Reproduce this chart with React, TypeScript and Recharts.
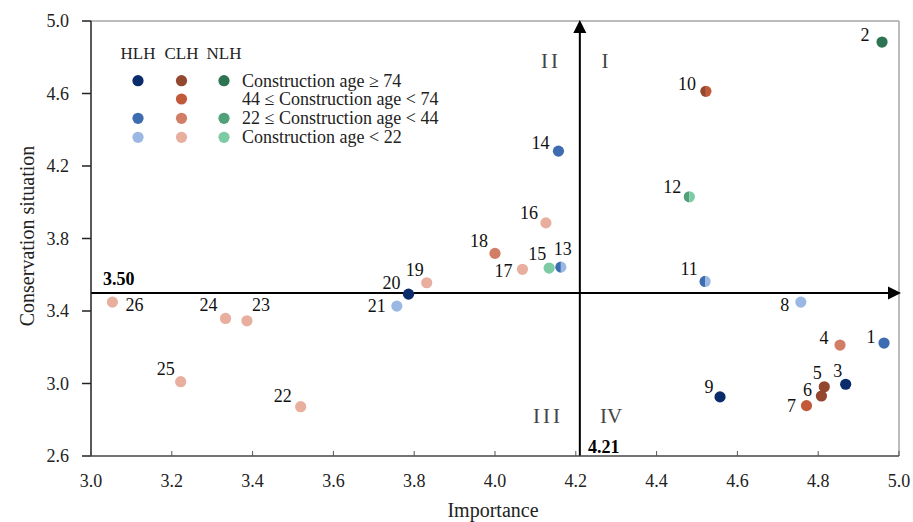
import React from 'react';
import { ScatterChart, Scatter, XAxis, YAxis, ReferenceLine, Customized } from 'recharts';

// ---- data ----
const pointIds = [1, 2, 3, 4, 5, 6, 7, 8, 9, 10, 11, 12, 13, 14, 15, 16, 17, 18, 19, 20, 21, 22, 23, 24, 25, 26];
const importance = [4.963, 4.958, 4.868, 4.854, 4.815, 4.808, 4.771, 4.757, 4.557, 4.522, 4.52, 4.481, 4.163, 4.157, 4.134, 4.126, 4.068, 4.0, 3.831, 3.786, 3.757, 3.519, 3.386, 3.333, 3.222, 3.053];
const conservation = [3.223, 4.884, 2.996, 3.212, 2.982, 2.931, 2.878, 3.449, 2.926, 4.612, 3.563, 4.03, 3.642, 4.282, 3.637, 3.886, 3.63, 3.718, 3.556, 3.493, 3.427, 2.872, 3.346, 3.359, 3.01, 3.449];
// type-age class; "a|b" = point shared by two classes
const pointClass = ['HLH-C', 'NLH-A', 'HLH-A', 'CLH-C', 'CLH-A', 'CLH-A', 'CLH-B', 'HLH-D', 'HLH-A', 'CLH-A|CLH-B', 'HLH-C|HLH-D', 'NLH-C|NLH-D', 'HLH-C|HLH-D', 'HLH-C', 'NLH-D', 'CLH-D', 'CLH-D', 'CLH-C', 'CLH-D', 'HLH-A', 'HLH-D', 'CLH-D', 'CLH-D', 'CLH-D', 'CLH-D', 'CLH-D'];

const xTicks = [3.0, 3.2, 3.4, 3.6, 3.8, 4.0, 4.2, 4.4, 4.6, 4.8, 5.0];
const yTicks = [2.6, 3.0, 3.4, 3.8, 4.2, 4.6, 5.0];
const importanceMean = 4.21;
const conservationMean = 3.5;

const typeHeaders = ['HLH', 'CLH', 'NLH'];
const ageLabels = ['Construction age \u2265 74', '44 \u2264 Construction age < 74', '22 \u2264 Construction age < 44', 'Construction age < 22'];
const ageKeys = ['A', 'B', 'C', 'D'];

// ---- styles ----
const colors: Record<string, string> = {
  'HLH-A': '#0b2c6b',
  'HLH-C': '#3d6cb0',
  'HLH-D': '#9ab8e3',
  'CLH-A': '#94472f',
  'CLH-B': '#c2593b',
  'CLH-C': '#d27e67',
  'CLH-D': '#e9af9e',
  'NLH-A': '#2d7452',
  'NLH-C': '#52a079',
  'NLH-D': '#7ccba4',
};
const labelOffsets: [number, number][] = [
  [-13, -6], [-17, -7], [-8, -14], [-16, -7], [-7, -14], [-14, -6], [-15, 0], [-16, 3], [-11, -10], [-19, -8],
  [-16, -13], [-17, -10], [2, -18], [-18, -8], [-12, -14], [-17, -10], [-19, 1], [-16, -13], [-12, -13], [-17, -11],
  [-20, 0], [-18, -11], [14, -16], [-17, -14], [-15, -13], [22, 3],
];
const FONT = '"Liberation Serif", "Times New Roman", serif';
const R = 5.6;

const data = pointIds.map((id, i) => ({
  id,
  x: importance[i],
  y: conservation[i],
  cls: pointClass[i],
  off: labelOffsets[i],
}));

const PointShape = (props: any) => {
  const { cx, cy, payload } = props;
  if (cx == null || cy == null) return null;
  const parts = String(payload.cls).split('|');
  const [dx, dy] = payload.off;
  return (
    <g>
      {parts.length === 1 ? (
        <circle cx={cx} cy={cy} r={R} fill={colors[parts[0]]} />
      ) : (
        <g>
          <path d={`M ${cx} ${cy - R} A ${R} ${R} 0 0 0 ${cx} ${cy + R} Z`} fill={colors[parts[0]]} />
          <path d={`M ${cx} ${cy - R} A ${R} ${R} 0 0 1 ${cx} ${cy + R} Z`} fill={colors[parts[1]]} />
        </g>
      )}
      <text x={cx + dx} y={cy + dy} dy="0.35em" textAnchor="middle" fontFamily={FONT} fontSize={18} fill="#111">
        {payload.id}
      </text>
    </g>
  );
};

const XTick = (props: any) => {
  const { x, y, payload } = props;
  return (
    <g>
      <line x1={x} x2={x} y1={y} y2={y - 5} stroke="#555" strokeWidth={1} />
      <text x={x} y={y + 31} textAnchor="middle" fontFamily={FONT} fontSize={18} fill="#222">
        {Number(payload.value).toFixed(1)}
      </text>
    </g>
  );
};

const ArrowH = (props: any) => {
  const { x1, y1, x2 } = props;
  const left = Math.min(x1, x2);
  const right = Math.max(x1, x2);
  const tip = right + 2;
  return (
    <g>
      <line x1={left} y1={y1} x2={tip - 10} y2={y1} stroke="#000" strokeWidth={2} />
      <polygon points={`${tip},${y1} ${tip - 13},${y1 - 6.5} ${tip - 13},${y1 + 6.5}`} fill="#000" />
    </g>
  );
};

const ArrowV = (props: any) => {
  const { x1, y1, y2 } = props;
  const top = Math.min(y1, y2);
  const bottom = Math.max(y1, y2);
  const tip = top - 1;
  return (
    <g>
      <line x1={x1} y1={bottom} x2={x1} y2={tip + 10} stroke="#000" strokeWidth={2} />
      <polygon points={`${x1},${tip} ${x1 - 6.5},${tip + 13} ${x1 + 6.5},${tip + 13}`} fill="#000" />
    </g>
  );
};

const Annotations = () => {
  const colX = [138, 181.5, 224];
  const rowY = [80.7, 99, 118.3, 137.3];
  const types = ['HLH', 'CLH', 'NLH'];
  return (
    <g fontFamily={FONT}>
      {/* legend */}
      {typeHeaders.map((h, i) => (
        <text key={h} x={colX[i]} y={59} textAnchor="middle" fontSize={17} fill="#222">{h}</text>
      ))}
      {ageKeys.map((k, r) => (
        <g key={k}>
          {types.map((t, c) => {
            const col = colors[`${t}-${k}`];
            return col ? <circle key={t} cx={colX[c]} cy={rowY[r]} r={R} fill={col} /> : null;
          })}
          <text x={242} y={rowY[r] + 6} fontSize={18} fill="#222">{ageLabels[r]}</text>
        </g>
      ))}
      {/* quadrant labels */}
      <text x={551} y={68} textAnchor="middle" fontSize={21} fill="#444" letterSpacing={3}>II</text>
      <text x={605} y={68} textAnchor="middle" fontSize={21} fill="#444">I</text>
      <text x={548} y={423} textAnchor="middle" fontSize={21} fill="#444" letterSpacing={3}>III</text>
      <text x={611} y={423} textAnchor="middle" fontSize={21} fill="#444">IV</text>
      {/* mean values */}
      <text x={103} y={285} fontSize={18} fontWeight="bold" fill="#000">{conservationMean.toFixed(2)}</text>
      <text x={588} y={453} fontSize={18} fontWeight="bold" fill="#000">{importanceMean.toFixed(2)}</text>
      {/* axis titles */}
      <text x={493} y={517} textAnchor="middle" fontSize={20} fill="#222">Importance</text>
      <text x={27} y={236} transform="rotate(-90, 27, 236)" textAnchor="middle" dominantBaseline="central" fontSize={20} fill="#222">
        Conservation situation
      </text>
    </g>
  );
};

export default function App() {
  return (
    <div style={{ position: 'absolute', left: 0, top: 0, background: '#fff' }}>
      <ScatterChart width={913} height={522} margin={{ top: 21, right: 14, bottom: 0, left: 0 }}>
        <XAxis
          type="number"
          dataKey="x"
          domain={[3, 5]}
          ticks={xTicks}
          allowDataOverflow
          height={66}
          tickLine={false}
          tickSize={0}
          tickMargin={0}
          tick={<XTick />}
          stroke="#444"
          strokeWidth={1.5}
          interval={0}
        />
        <YAxis
          type="number"
          dataKey="y"
          domain={[2.6, 5]}
          ticks={yTicks}
          allowDataOverflow
          width={91}
          tickSize={9}
          tickMargin={13}
          tickFormatter={(v: number) => v.toFixed(1)}
          tick={{ fill: '#222', fontSize: 18, fontFamily: FONT }}
          stroke="#222"
          strokeWidth={1.5}
          interval={0}
        />
        <ReferenceLine y={5} stroke="#a6a6a6" strokeWidth={1.5} />
        <ReferenceLine x={5} stroke="#a6a6a6" strokeWidth={1.5} />
        <ReferenceLine y={conservationMean} shape={ArrowH} />
        <ReferenceLine x={importanceMean} shape={ArrowV} />
        <Customized component={Annotations} />
        <Scatter data={data} shape={PointShape} isAnimationActive={false} />
      </ScatterChart>
    </div>
  );
}
